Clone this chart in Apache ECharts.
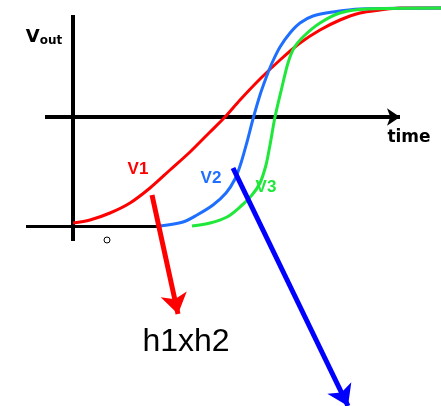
<!DOCTYPE html>
<html>
<head>
<meta charset="utf-8">
<script src="https://cdn.jsdelivr.net/npm/echarts@6/dist/echarts.min.js"></script>
<style>
  html, body { margin: 0; padding: 0; background: #fff; }
  #main { width: 441px; height: 406px; }
</style>
</head>
<body>
<div id="main"></div>
<script>
// picture-space data (x to the right, y downwards)
var v1Curve = [[73,223],[90,220],[110,213],[130,203],[150,188],[170,170],[190,152],[210,132],[225,117],[240,100],[260,79],[280,60],[300,43],[320,30],[340,20],[360,13],[380,10],[400,8],[441,8]];
var v2Curve = [[160,226],[183,222],[197,215],[213,205],[226,193],[235,179],[241,163],[247,142],[253,119],[260,95],[266,78],[272,63],[280,47],[290,33],[300,23],[313,16],[333,12],[360,9],[441,8]];
var v3Curve = [[192,226],[210,223],[227,217],[240,207],[252,195],[260,183],[266,165],[270,145],[275,117],[282,87],[288,63],[294,48],[304,36],[320,23],[340,13],[367,9],[441,8]];

var axisVert = [[73,15],[73,241]];
var axisBase = [[26,226],[160,226]];
var axisTime = [[45,117],[400,117]];

var arrowRed = [[152,195],[178,314]];
var arrowBlue = [[233,168],[348,406]];

var labelNames = ['V1','V2','V3'];
var labelPos = [[138,169],[211,178],[266,187]];
var labelColors = ['#ff0000','#1f6fff','#1fe83a'];

var chart = echarts.init(document.getElementById('main'), null, {renderer: 'canvas'});

var curveSeries = function (data, color) {
    return {
        type: 'line',
        data: data,
        smooth: 0.3,
        symbol: 'none',
        z: 3,
        lineStyle: {color: color, width: 3}
    };
};

var segment = function (coords, color, width, arrow, arrowSize, z) {
    return {
        type: 'lines',
        coordinateSystem: 'cartesian2d',
        z: z,
        symbol: arrow ? ['none', 'arrow'] : ['none', 'none'],
        symbolSize: arrowSize || 10,
        lineStyle: {color: color, width: width, opacity: 1, curveness: 0},
        data: [{coords: coords}]
    };
};

var textPoint = function (pos, text, style, z) {
    return {
        type: 'scatter',
        symbolSize: 0,
        z: z || 6,
        silent: true,
        itemStyle: {opacity: 1},
        data: [pos],
        label: Object.assign({show: true, position: 'inside', formatter: text}, style)
    };
};

var series = [
    segment(axisVert, '#000', 4, false, 0, 2),
    segment(axisBase, '#000', 3, false, 0, 2),
    segment(axisTime, '#000', 4, true, 13, 2),
    curveSeries(v1Curve, labelColors[0]),
    curveSeries(v2Curve, labelColors[1]),
    curveSeries(v3Curve, labelColors[2]),
    segment(arrowRed, '#ff0000', 5, true, 20, 5),
    segment(arrowBlue, '#0000ff', 5, true, 20, 5),
    {
        type: 'scatter',
        z: 6,
        data: [[107,240]],
        symbol: 'circle',
        symbolSize: 6,
        itemStyle: {color: '#fff', borderColor: '#000', borderWidth: 1, opacity: 1}
    },
    textPoint([44,37], '{v|V}{s|out}', {
        rich: {
            v: {fontFamily: 'DejaVu Sans', fontWeight: 'bold', fontSize: 18, color: '#000'},
            s: {fontFamily: 'DejaVu Sans', fontWeight: 'bold', fontSize: 12, color: '#000', verticalAlign: 'bottom', padding: [8,0,0,0]}
        }
    }),
    textPoint([409,138], 'time', {fontFamily: 'DejaVu Sans', fontWeight: 'bold', fontSize: 17, color: '#000'}),
    textPoint([186,342], 'h1xh2', {fontFamily: 'Liberation Sans', fontSize: 32, color: '#000'})
];

for (var i = 0; i < labelNames.length; i++) {
    series.push(textPoint(labelPos[i], labelNames[i], {
        fontFamily: 'Liberation Sans', fontWeight: 'bold', fontSize: 17, color: labelColors[i]
    }, 4));
}

chart.setOption({
    animation: false,
    grid: {left: 0, right: 0, top: 0, bottom: 0},
    xAxis: {type: 'value', min: 0, max: 441, show: false},
    yAxis: {type: 'value', min: 0, max: 406, inverse: true, show: false},
    series: series
});
</script>
</body>
</html>
